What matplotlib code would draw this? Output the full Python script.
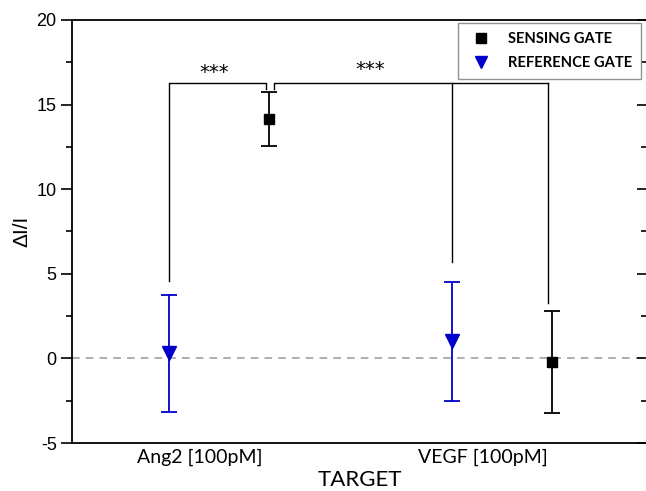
import matplotlib
matplotlib.use("Agg")
import matplotlib.pyplot as plt
import numpy as np
from matplotlib.ticker import MultipleLocator
from matplotlib.lines import Line2D

plt.rcParams["axes.unicode_minus"] = False

# ---- data ----
targets = ["Ang2 [100pM]", "VEGF [100pM]"]
sensing_vals = [14.15, -0.2]
sensing_err = [1.6, 3.0]
reference_vals = [0.3, 1.0]
reference_err = [3.45, 3.5]
yticks = [-5, 0, 5, 10, 15, 20]

W, H = 646, 491
fig = plt.figure(figsize=(W / 100, H / 100), dpi=100)
ax = fig.add_axes([72 / W, (491 - 443) / H, (647 - 72) / W, (443 - 20) / H])

xpos = np.arange(1, len(targets) + 1)
ref_off, sen_off = -0.11, 0.245
xr = xpos + ref_off
xs = xpos + sen_off

ax.axhline(0, color="#999999", lw=1.1, ls=(0, (5, 4)), zorder=1)

ax.errorbar(xr, reference_vals, yerr=reference_err, fmt="v", color="#0000cc",
            ms=9.5, capsize=6, elinewidth=1.3, capthick=1.3, zorder=3)
ax.errorbar(xs, sensing_vals, yerr=sensing_err, fmt="s", color="black",
            ms=7, capsize=6, elinewidth=1.3, capthick=1.3, zorder=3)

# significance brackets
top = 16.3
gap = 0.8
lc = "black"
lw = 1.0
x1a, x1b = xr[0], xs[0] - 0.012
ax.plot([x1a, x1a, x1b, x1b],
        [reference_vals[0] + reference_err[0] + gap, top, top, top - 0.35],
        color=lc, lw=lw)
x2a = xs[0] + 0.018
x2c = xs[1] - 0.015
ax.plot([x2a, x2a, x2c], [top - 0.35, top, top], color=lc, lw=lw)
ax.plot([xr[1], xr[1]], [top, reference_vals[1] + reference_err[1] + 1.2],
        color=lc, lw=lw)
ax.plot([x2c, x2c], [top, sensing_vals[1] + sensing_err[1] + 0.5],
        color=lc, lw=lw)
ax.text((x1a + x1b) / 2 - 0.01, top + 0.62, "***", ha="center", va="center",
        fontsize=14, fontfamily="DejaVu Sans")
ax.text((x2a + xr[1]) / 2 + 0.025, top + 0.8, "***", ha="center", va="center",
        fontsize=14, fontfamily="DejaVu Sans")

ax.set_xlim(1 - 0.452, 2 + 0.58)
ax.set_ylim(-5, 20)
ax.set_yticks(yticks)
ax.yaxis.set_minor_locator(MultipleLocator(2.5))
ax.set_xticks(xpos)
ax.set_xticklabels(targets, fontfamily="Lato", fontsize=14)
ax.tick_params(axis="x", length=0, pad=4)
ax.tick_params(axis="y", which="major", direction="out", length=8, width=1.2,
               labelsize=13, right=True, pad=3)
ax.tick_params(axis="y", which="minor", direction="out", length=4, width=1.2,
               right=True)
for lab in ax.get_yticklabels():
    lab.set_fontfamily("Liberation Sans")
for t in ax.yaxis.get_major_ticks():
    t.tick2line.set_marker(matplotlib.lines.TICKLEFT)
    t.tick2line.set_markersize(7)
for t in ax.yaxis.get_minor_ticks():
    t.tick2line.set_marker(matplotlib.lines.TICKLEFT)
    t.tick2line.set_markersize(4)

for s in ax.spines.values():
    s.set_linewidth(1.3)

ax.set_ylabel("ΔI/I", fontsize=15, fontfamily="Liberation Sans", labelpad=4)
ax.set_xlabel("TARGET", fontsize=16, fontfamily="Lato", labelpad=3)

handles = [Line2D([], [], ls="none", marker="s", color="black", ms=7),
           Line2D([], [], ls="none", marker="v", color="#0000cc", ms=9)]
leg = ax.legend(handles, ["SENSING GATE", "REFERENCE GATE"], loc="upper right",
                bbox_to_anchor=(1 - 6 / 575, 1 - 3 / 423), borderaxespad=0,
                prop={"family": "Lato", "weight": "bold", "size": 10.6},
                frameon=True, fancybox=False, edgecolor="#777777",
                handlelength=1.9, handletextpad=0.9, borderpad=0.6,
                labelspacing=0.7)
leg.get_frame().set_linewidth(1.0)

fig.savefig("out.png", dpi=100)
